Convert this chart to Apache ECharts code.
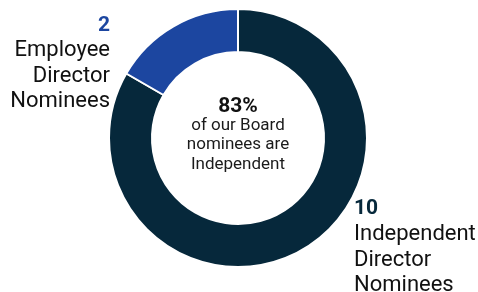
<!DOCTYPE html>
<html>
<head>
<meta charset="utf-8">
<script src="https://cdn.jsdelivr.net/npm/echarts@6/dist/echarts.min.js"></script>
<style>
  html, body { margin: 0; padding: 0; background: #fff; }
  #chart { width: 478px; height: 292px; }
</style>
</head>
<body>
<div id="chart"></div>
<script>
// nominee split
const categories = ['Independent Director Nominees', 'Employee Director Nominees'];
const counts = [10, 2];
const colors = ['#06283b', '#1c46a0'];
const labelLines = [['Independent', 'Director', 'Nominees'], ['Employee', 'Director', 'Nominees']];
const centerPct = '83%';
const centerLines = ['of our Board', 'nominees are', 'Independent'];

const myChart = echarts.init(document.getElementById('chart'));

// centre text, one line per element so every line is centred
const centerText = [{
    type: 'text',
    x: 238,
    y: 96,
    style: { text: centerPct, align: 'center', fontSize: 21, fontWeight: 'bold', fill: '#111', fontFamily: 'Roboto' }
}];
centerLines.forEach((line, i) => {
    centerText.push({
        type: 'text',
        x: 238,
        y: 117 + i * 19.5,
        style: { text: line, align: 'center', fontSize: 17, fill: '#1a1a1a', fontFamily: 'Roboto' }
    });
});

const option = {
    animation: false,
    textStyle: { fontFamily: 'Roboto' },
    graphic: centerText,
    series: [
        {
            type: 'pie',
            center: [238, 138],
            radius: [86, 129],
            startAngle: 90,
            clockwise: true,
            silent: true,
            itemStyle: { borderColor: '#fff', borderWidth: 2 },
            labelLine: { show: false },
            label: {
                show: true,
                position: 'outside',
                formatter: params => {
                    return '{n' + params.dataIndex + '|' + params.value + '}\n{t|' + labelLines[params.dataIndex].join('\n') + '}';
                },
                rich: {
                    n0: { fontSize: 21, fontWeight: 'bold', color: colors[0], lineHeight: 26, fontFamily: 'Roboto' },
                    n1: { fontSize: 21, fontWeight: 'bold', color: colors[1], lineHeight: 24, fontFamily: 'Roboto' },
                    t: { fontSize: 22, color: '#111', lineHeight: 25.5, fontFamily: 'Roboto' }
                }
            },
            labelLayout: params => {
                if (params.dataIndex === 0) {
                    return { x: 354, y: 196, align: 'left', verticalAlign: 'top' };
                }
                return { x: 110, y: 14, align: 'right', verticalAlign: 'top' };
            },
            data: categories.map((name, i) => ({
                name: name,
                value: counts[i],
                itemStyle: { color: colors[i] }
            }))
        }
    ]
};
myChart.setOption(option);
</script>
</body>
</html>
